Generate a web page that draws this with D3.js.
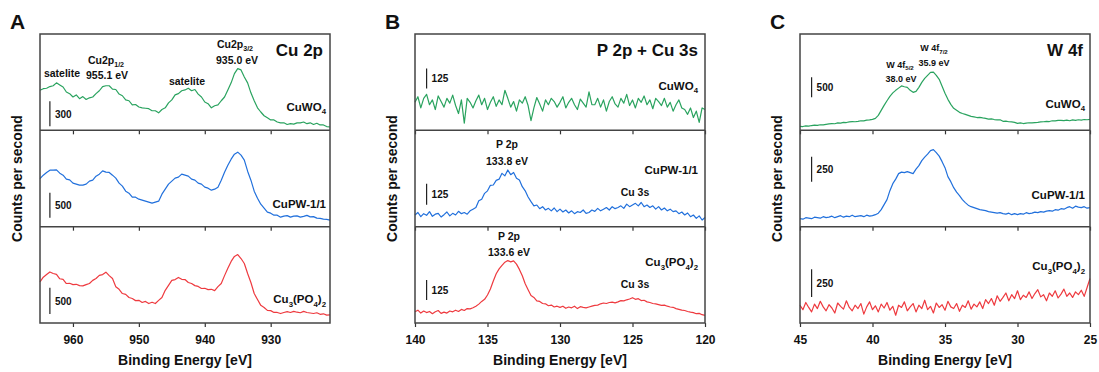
<!DOCTYPE html>
<html>
<head>
<meta charset="utf-8">
<script src="https://cdn.jsdelivr.net/npm/d3@7"></script>
<style>
  body { margin: 0; background: #fff; }
  svg text { font-family: Arial, "Liberation Sans", Helvetica, sans-serif; font-weight: bold; fill: #111; }
</style>
</head>
<body>
<div id="graphicContainer"></div>
<script>

// ---- data: counts per second ----

// Cu 2p, 965 -> 921 eV, step 0.5 eV
const cu2pCuWO4 = [1980, 2000, 2005, 2025, 2035, 2070, 2045, 2020, 1960, 1940,
  1900, 1925, 1880, 1905, 1870, 1890, 1900, 1940, 1975, 2025,
  2035, 2035, 1995, 1990, 1935, 1915, 1865, 1855, 1805, 1810,
  1780, 1770, 1765, 1760, 1735, 1735, 1710, 1750, 1770, 1830,
  1865, 1925, 1940, 1975, 1985, 2005, 1975, 1990, 1935, 1900,
  1840, 1820, 1770, 1795, 1805, 1855, 1900, 1985, 2070, 2180,
  2240, 2225, 2140, 2070, 1950, 1855, 1770, 1720, 1675, 1650,
  1625, 1625, 1600, 1590, 1590, 1570, 1580, 1575, 1590, 1590,
  1600, 1580, 1590, 1570, 1585, 1565, 1565, 1545, 1540]

const cu2pCuPW = [2960, 3030, 3085, 3130, 3130, 3135, 3070, 3030, 2950, 2935,
  2870, 2850, 2830, 2830, 2850, 2910, 2930, 3010, 3050, 3115,
  3090, 3085, 3030, 2970, 2870, 2810, 2710, 2670, 2590, 2590,
  2550, 2530, 2510, 2490, 2470, 2490, 2510, 2650, 2750, 2850,
  2910, 2970, 2990, 3050, 3030, 3010, 2950, 2930, 2870, 2850,
  2790, 2770, 2730, 2750, 2790, 2930, 3090, 3230, 3350, 3450,
  3490, 3430, 3330, 3110, 2930, 2710, 2570, 2450, 2370, 2290,
  2270, 2230, 2230, 2190, 2210, 2220, 2190, 2210, 2215, 2190,
  2205, 2225, 2195, 2200, 2170, 2165, 2150, 2145, 2130]

const cu2pCuPO = [3280, 3370, 3420, 3470, 3440, 3425, 3340, 3330, 3250, 3255,
  3230, 3235, 3210, 3205, 3230, 3250, 3310, 3345, 3405, 3420,
  3465, 3400, 3345, 3190, 3140, 3060, 3045, 2985, 2965, 2925,
  2930, 2890, 2910, 2870, 2895, 2870, 2930, 2985, 3120, 3215,
  3310, 3325, 3365, 3330, 3325, 3270, 3250, 3210, 3195, 3155,
  3160, 3135, 3140, 3115, 3190, 3250, 3400, 3540, 3670, 3765,
  3800, 3725, 3630, 3440, 3270, 3060, 2945, 2835, 2795, 2740,
  2735, 2700, 2700, 2680, 2700, 2715, 2700, 2720, 2705, 2695,
  2720, 2700, 2690, 2680, 2695, 2665, 2675, 2650, 2655]

// P 2p + Cu 3s, 140 -> 120 eV, step 0.2 eV
const p2pCuWO4 = [575, 610, 540, 600, 625, 560, 590, 530, 615, 580,
  545, 600, 570, 620, 555, 505, 590, 445, 600, 575,
  540, 585, 620, 560, 600, 530, 575, 610, 550, 590,
  560, 650, 600, 545, 580, 520, 590, 570, 610, 555,
  460, 540, 605, 565, 520, 590, 560, 600, 580, 545,
  575, 610, 540, 575, 600, 560, 530, 595, 570, 545,
  640, 560, 560, 600, 545, 590, 520, 580, 610, 565,
  545, 600, 570, 625, 555, 590, 540, 600, 575, 615,
  560, 590, 535, 600, 580, 555, 600, 545, 575, 520,
  560, 590, 540, 530, 500, 540, 480, 520, 450, 540, 530]

const p2pCuPW = [470, 485, 460, 478, 468, 490, 462, 475, 480, 458,
  472, 488, 465, 480, 470, 492, 478, 485, 475, 495,
  505, 515, 555, 565, 600, 615, 648, 650, 678, 685,
  720, 705, 740, 712, 725, 690, 680, 640, 615, 578,
  550, 525, 530, 508, 520, 500, 510, 495, 512, 490,
  505, 488, 500, 482, 495, 478, 490, 485, 500, 480,
  485, 500, 492, 510, 495, 505, 515, 500, 520, 508,
  515, 525, 510, 535, 520, 530, 540, 525, 545, 520,
  530, 515, 525, 505, 520, 500, 512, 495, 505, 490,
  495, 478, 488, 470, 482, 460, 470, 450, 465, 440, 455]

const p2pCuPO = [470, 480, 462, 475, 465, 472, 458, 470, 478, 460,
  468, 462, 475, 470, 480, 472, 485, 478, 490, 488,
  495, 505, 518, 535, 548, 575, 612, 662, 708, 738,
  760, 780, 790, 782, 788, 768, 735, 695, 645, 608,
  572, 560, 538, 535, 522, 520, 508, 512, 500, 505,
  498, 505, 492, 500, 495, 505, 490, 502, 498, 495,
  500, 505, 510, 512, 520, 525, 522, 528, 530, 526,
  532, 540, 538, 545, 550, 558, 548, 552, 540, 542,
  532, 528, 522, 520, 515, 510, 512, 505, 500, 498,
  490, 485, 480, 478, 472, 468, 465, 458, 460, 452, 448]

// W 4f, 45 -> 25 eV, step 0.2 eV
const w4fCuWO4 = [3100, 3095, 3110, 3105, 3120, 3130, 3125, 3140, 3135, 3150,
  3160, 3170, 3165, 3185, 3180, 3200, 3195, 3210, 3220, 3215,
  3225, 3240, 3235, 3255, 3260, 3275, 3300, 3375, 3500, 3625,
  3740, 3850, 3935, 4000, 4055, 4110, 4090, 4075, 4000, 3950,
  3975, 4075, 4200, 4300, 4375, 4450, 4455, 4375, 4275, 4100,
  3925, 3775, 3650, 3550, 3500, 3450, 3420, 3400, 3375, 3350,
  3335, 3320, 3325, 3310, 3300, 3280, 3285, 3270, 3260, 3265,
  3225, 3230, 3215, 3210, 3200, 3175, 3185, 3170, 3180, 3190,
  3185, 3195, 3200, 3210, 3215, 3225, 3220, 3240, 3235, 3250,
  3250, 3245, 3255, 3240, 3260, 3250, 3265, 3255, 3270, 3265, 3275]

const w4fCuPW = [1580, 1575, 1590, 1585, 1580, 1595, 1590, 1585, 1600, 1590,
  1595, 1605, 1590, 1600, 1610, 1595, 1605, 1600, 1615, 1600,
  1605, 1610, 1600, 1615, 1605, 1610, 1620, 1635, 1670, 1720,
  1770, 1860, 1930, 1975, 2030, 2045, 2040, 2050, 2040, 2030,
  2075, 2110, 2160, 2195, 2225, 2260, 2270, 2240, 2205, 2150,
  2090, 2000, 1950, 1890, 1845, 1810, 1770, 1740, 1715, 1700,
  1690, 1680, 1670, 1665, 1660, 1650, 1645, 1640, 1635, 1640,
  1630, 1625, 1635, 1620, 1630, 1620, 1630, 1625, 1640, 1630,
  1635, 1645, 1640, 1650, 1645, 1655, 1660, 1655, 1670, 1665,
  1680, 1675, 1690, 1700, 1685, 1705, 1695, 1690, 1700, 1685, 1690]

const w4fCuPO = [1360, 1320, 1385, 1340, 1300, 1370, 1330, 1395, 1345, 1310,
  1365, 1335, 1290, 1380, 1350, 1325, 1400, 1340, 1310, 1360,
  1330, 1375, 1280, 1345, 1390, 1320, 1355, 1300, 1370, 1335,
  1385, 1315, 1350, 1270, 1360, 1340, 1390, 1310, 1345, 1375,
  1300, 1360, 1330, 1405, 1320, 1350, 1290, 1380, 1340, 1365,
  1315, 1395, 1345, 1330, 1375, 1305, 1360, 1340, 1400, 1325,
  1370, 1345, 1390, 1330, 1410, 1375, 1420, 1360, 1445, 1395,
  1430, 1470, 1400, 1455, 1420, 1490, 1410, 1450, 1430, 1480,
  1420, 1465, 1500, 1435, 1455, 1400, 1470, 1440, 1490, 1425,
  1460, 1505, 1440, 1470, 1430, 1480, 1455, 1495, 1440, 1520, 1600]

const samples = ["CuWO_4", "CuPW-1/1", "Cu_3(PO_4)_2"]
const sampleColors = ["#2aa35f", "#2170dc", "#ee3a3f"]

const ticksA = [960, 950, 940, 930]
const ticksB = [140, 135, 130, 125, 120]
const ticksC = [45, 40, 35, 30, 25]

// ---- layout ----

const width = 1099
const height = 372
const plotTop = 34
const plotBottom = 323
const plotWidth = 290
const rowH = (plotBottom - plotTop) / 3

const panels = [
  {
    letter: "A", title: "Cu 2p", left: 40, domain: [965, 921], ticks: ticksA, start: 965, step: 0.5,
    series: [cu2pCuWO4, cu2pCuPW, cu2pCuPO],
    yDomains: [[1500, 2656], [2000, 3927], [2500, 4330]],
    bars: [{ e: 963.5, base: 1548, v: 300 }, { e: 963.5, base: 2180, v: 500 }, { e: 963.5, base: 2671, v: 500 }],
    labelY: [77, 77.5, 76.5], labelR: 4,
    notes: [
      { row: 0, x: 62, y: 43, t: "satelite", s: 10.5 },
      { row: 0, x: 106, y: 29.5, t: "Cu2p_{1/2}", s: 10.5 },
      { row: 0, x: 107, y: 45, t: "955.1 eV", s: 10.5 },
      { row: 0, x: 187, y: 51, t: "satelite", s: 10.5 },
      { row: 0, x: 235, y: 13.5, t: "Cu2p_{3/2}", s: 10.5 },
      { row: 0, x: 237, y: 30, t: "935.0 eV", s: 10.5 }
    ]
  },
  {
    letter: "B", title: "P 2p + Cu 3s", left: 415, domain: [140, 120], ticks: ticksB, start: 140, step: 0.2,
    series: [p2pCuWO4, p2pCuPW, p2pCuPO],
    yDomains: [[400, 1002], [400, 978], [400, 1002]],
    bars: [{ e: 139.2, base: 662, v: 125 }, { e: 139.2, base: 532, v: 125 }, { e: 139.2, base: 544, v: 125 }],
    labelY: [56, 43.5, 39.5], labelR: 7,
    notes: [
      { row: 1, x: 507, y: 18, t: "P 2p", s: 10.5 },
      { row: 1, x: 507, y: 34.5, t: "133.8 eV", s: 10.5 },
      { row: 1, x: 635, y: 65.5, t: "Cu 3s", s: 10.5 },
      { row: 2, x: 509, y: 13, t: "P 2p", s: 10.5 },
      { row: 2, x: 509, y: 29.5, t: "133.6 eV", s: 10.5 },
      { row: 2, x: 635, y: 61.5, t: "Cu 3s", s: 10.5 }
    ]
  },
  {
    letter: "C", title: "W 4f", left: 800, domain: [45, 25], ticks: ticksC, start: 45, step: 0.2,
    series: [w4fCuWO4, w4fCuPW, w4fCuPO],
    yDomains: [[3000, 5408], [1500, 2463], [1200, 2067]],
    bars: [{ e: 44.2, base: 3825, v: 500 }, { e: 44.2, base: 1950, v: 250 }, { e: 44.2, base: 1434, v: 250 }],
    labelY: [74, 68.7, 43.5], labelR: 5,
    notes: [
      { row: 0, x: 934, y: 17, t: "W 4f_{7/2}", s: 9 },
      { row: 0, x: 934, y: 32, t: "35.9 eV", s: 9 },
      { row: 0, x: 900, y: 33.5, t: "W 4f_{5/2}", s: 9 },
      { row: 0, x: 901, y: 48, t: "38.0 eV", s: 9 }
    ]
  }
]

// text with subscripts written as _4 or _{1/2}
function richText(g, str, x, y, anchor, size) {
  const t = g.append("text")
    .attr("x", x)
    .attr("y", y)
    .attr("text-anchor", anchor)
    .style("font-size", size + "px")
  const sh = size * 0.3
  const re = /_\{([^}]*)\}|_(.)/g
  let last = 0
  let down = false
  let m
  while ((m = re.exec(str))) {
    if (m.index > last) {
      t.append("tspan").attr("dy", down ? -sh : 0).text(str.slice(last, m.index))
      down = false
    }
    t.append("tspan")
      .attr("dy", down ? 0 : sh)
      .style("font-size", (size * 0.68) + "px")
      .text(m[1] || m[2])
    down = true
    last = re.lastIndex
  }
  if (last < str.length) {
    t.append("tspan").attr("dy", down ? -sh : 0).text(str.slice(last))
  }
  return t
}

const svg = d3.select("#graphicContainer")
  .append("svg")
  .attr("width", width)
  .attr("height", height)

svg.append("rect").attr("width", width).attr("height", height).attr("fill", "#fff")

panels.forEach((p) => {

  const x = d3.scaleLinear()
    .domain(p.domain)
    .range([p.left, p.left + plotWidth])

  const g = svg.append("g").attr("class", "panel")

  p.series.forEach((values, i) => {

    const rowTop = plotTop + i * rowH

    const y = d3.scaleLinear()
      .domain(p.yDomains[i])
      .range([rowTop + rowH, rowTop])

    const pts = values.map((v, k) => [p.start - k * p.step, v])

    const line = d3.line()
      .x((d) => x(d[0]))
      .y((d) => y(d[1]))

    g.append("path")
      .datum(pts)
      .attr("fill", "none")
      .attr("stroke", sampleColors[i])
      .attr("stroke-width", 1.2)
      .attr("stroke-linejoin", "round")
      .attr("d", line)

    // scale bar
    const b = p.bars[i]
    g.append("line")
      .attr("x1", x(b.e)).attr("x2", x(b.e))
      .attr("y1", y(b.base)).attr("y2", y(b.base + b.v))
      .attr("stroke", "#222")
      .attr("stroke-width", 1.2)

    g.append("text")
      .attr("x", x(b.e) + 5)
      .attr("y", (y(b.base) + y(b.base + b.v)) / 2 + 4)
      .style("font-size", "10px")
      .text(b.v)

    richText(g, samples[i], p.left + plotWidth - p.labelR, rowTop + p.labelY[i], "end", 11.5)

    // x axis below each row
    const axis = d3.axisBottom(x)
      .tickValues(p.ticks)
      .tickSize(4)
      .tickPadding(8)
      .tickFormat(i == 2 ? d3.format("d") : "")

    const ax = g.append("g")
      .attr("transform", "translate(0," + (rowTop + rowH) + ")")
      .call(axis)

    ax.select(".domain").remove()
    ax.selectAll(".tick line").attr("stroke", "#333").attr("stroke-width", 1.2)
    ax.selectAll(".tick text")
      .style("font-size", "12px")
      .style("font-family", "Arial, 'Liberation Sans', sans-serif")
      .style("font-weight", "bold")
      .attr("fill", "#111")

    if (i > 0) {
      g.append("line")
        .attr("x1", p.left).attr("x2", p.left + plotWidth)
        .attr("y1", rowTop).attr("y2", rowTop)
        .attr("stroke", "#444")
        .attr("stroke-width", 1.5)
    }
  })

  p.notes.forEach((n) => {
    richText(g, n.t, n.x, plotTop + n.row * rowH + n.y, "middle", n.s)
  })

  g.append("rect")
    .attr("x", p.left)
    .attr("y", plotTop)
    .attr("width", plotWidth)
    .attr("height", plotBottom - plotTop)
    .attr("fill", "none")
    .attr("stroke", "#444")
    .attr("stroke-width", 1.5)

  g.append("text")
    .attr("x", p.left + plotWidth - 7)
    .attr("y", plotTop + 22)
    .attr("text-anchor", "end")
    .style("font-size", "17px")
    .text(p.title)

  g.append("text")
    .attr("x", p.left - 30)
    .attr("y", 29)
    .style("font-size", "21px")
    .text(p.letter)

  g.append("text")
    .attr("x", p.left + plotWidth / 2)
    .attr("y", 365)
    .attr("text-anchor", "middle")
    .style("font-size", "14px")
    .text("Binding Energy [eV]")

  g.append("text")
    .attr("transform", "translate(" + (p.left - 18) + "," + ((plotTop + plotBottom) / 2) + ") rotate(-90)")
    .attr("text-anchor", "middle")
    .style("font-size", "14px")
    .text("Counts per second")
})

</script>
</body>
</html>
